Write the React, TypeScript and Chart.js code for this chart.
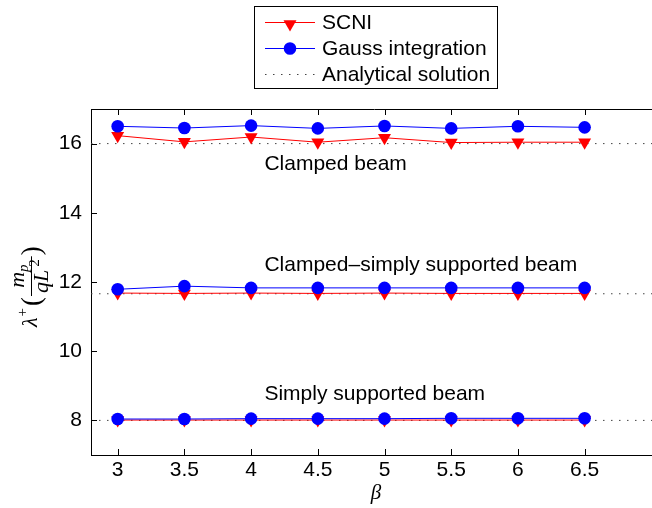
import React, { useEffect, useRef } from 'react';
import { Chart, registerables } from 'chart.js';

Chart.register(...registerables);

// ---- data ----
const betaValues = [3, 3.5, 4, 4.5, 5, 5.5, 6, 6.5];

const scniClamped = [16.23, 16.05, 16.19, 16.04, 16.17, 16.03, 16.04, 16.04];
const gaussClamped = [16.5, 16.45, 16.52, 16.44, 16.51, 16.44, 16.5, 16.47];

const scniClampedSimply = [11.68, 11.67, 11.68, 11.67, 11.68, 11.67, 11.67, 11.67];
const gaussClampedSimply = [11.79, 11.88, 11.83, 11.83, 11.83, 11.83, 11.83, 11.83];

const scniSimply = [8.01, 8.01, 8.01, 8.01, 8.01, 8.01, 8.01, 8.01];
const gaussSimply = [8.04, 8.04, 8.05, 8.05, 8.05, 8.06, 8.06, 8.06];

const analyticalValues = [16, 11.66, 8];
const analyticalSpan = [2.8, 7.05];

const xTickValues = [3, 3.5, 4, 4.5, 5, 5.5, 6, 6.5];
const yTickValues = [8, 10, 12, 14, 16];

const seriesNames = ['SCNI', 'Gauss integration', 'Analytical solution'];

const beamLabels = ['Clamped beam', 'Clamped\u2013simply supported beam', 'Simply supported beam'];
const beamLabelX = [4.1, 4.1, 4.1];
const beamLabelY = [15.4, 12.48, 8.76];

// ---- styles ----
const RED = '#ff0000';
const BLUE = '#0000ff';
const SANS = '"Liberation Sans", Arial, Helvetica, sans-serif';
const SERIF = '"Liberation Serif", "DejaVu Serif", serif';

const toPts = (ys: number[]) => betaValues.map((x, i) => ({ x, y: ys[i] }));

function drawTriangleDown(ctx: CanvasRenderingContext2D, x: number, y: number, r: number) {
  ctx.beginPath();
  for (let k = 0; k < 3; k++) {
    const a = Math.PI + (k * 2 * Math.PI) / 3;
    const px = x + Math.sin(a) * r;
    const py = y - Math.cos(a) * r;
    if (k === 0) ctx.moveTo(px, py);
    else ctx.lineTo(px, py);
  }
  ctx.closePath();
  ctx.fill();
}

const decorPlugin = {
  id: 'decor',
  afterDraw(chart: any) {
    const ctx: CanvasRenderingContext2D = chart.ctx;
    const { left, right, top, bottom } = chart.chartArea;
    const xs = chart.scales.x;
    const ys = chart.scales.y;
    ctx.save();

    // spines (top and right) and inward ticks
    ctx.strokeStyle = '#000';
    ctx.lineWidth = 1;
    ctx.beginPath();
    ctx.moveTo(left, top + 0.5);
    ctx.lineTo(right, top + 0.5);
    ctx.moveTo(right - 0.5, top);
    ctx.lineTo(right - 0.5, bottom);
    const tl = 6;
    xTickValues.forEach((v) => {
      const px = Math.round(xs.getPixelForValue(v)) + 0.5;
      ctx.moveTo(px, bottom);
      ctx.lineTo(px, bottom - tl);
      ctx.moveTo(px, top);
      ctx.lineTo(px, top + tl);
    });
    yTickValues.forEach((v) => {
      const py = Math.round(ys.getPixelForValue(v)) + 0.5;
      ctx.moveTo(left, py);
      ctx.lineTo(left + tl, py);
      ctx.moveTo(right, py);
      ctx.lineTo(right - tl, py);
    });
    ctx.stroke();

    // beam labels
    ctx.fillStyle = '#000';
    ctx.font = `21px ${SANS}`;
    ctx.textAlign = 'left';
    ctx.textBaseline = 'middle';
    beamLabels.forEach((t, i) => {
      ctx.fillText(t, xs.getPixelForValue(beamLabelX[i]), ys.getPixelForValue(beamLabelY[i]));
    });

    // x axis title (beta)
    ctx.font = `italic 21px ${SERIF}`;
    ctx.textAlign = 'center';
    ctx.textBaseline = 'middle';
    ctx.fillText('\u03B2', 376, 493);

    // y axis title: lambda^+ ( m_p / qL^2 )
    ctx.save();
    ctx.translate(32, 327);
    ctx.rotate(-Math.PI / 2);
    ctx.textAlign = 'left';
    ctx.textBaseline = 'alphabetic';
    const big = `italic 22px ${SERIF}`;
    const small = `italic 15px ${SERIF}`;
    const uprSmall = `15px ${SERIF}`;
    const paren = `27px ${SERIF}`;
    let cx = 0;
    const base = 5;
    ctx.font = big;
    ctx.fillText('\u03BB', cx, base);
    cx += ctx.measureText('\u03BB').width + 1;
    ctx.font = uprSmall;
    ctx.fillText('+', cx, base - 10);
    cx += ctx.measureText('+').width + 2;
    ctx.font = paren;
    ctx.fillText('(', cx, base + 3);
    cx += ctx.measureText('(').width + 1;
    // fraction
    ctx.font = big;
    const mW = ctx.measureText('m').width;
    ctx.font = small;
    const pW = ctx.measureText('p').width;
    const numW = mW + pW;
    ctx.font = big;
    const qLW = ctx.measureText('qL').width;
    ctx.font = uprSmall;
    const twoW = ctx.measureText('2').width;
    const denW = qLW + twoW + 3;
    const fracW = Math.max(numW, denW) + 6;
    // bar
    ctx.strokeStyle = '#000';
    ctx.lineWidth = 1;
    ctx.beginPath();
    ctx.moveTo(cx, -0.5);
    ctx.lineTo(cx + fracW, -0.5);
    ctx.stroke();
    // numerator
    let nx = cx + (fracW - numW) / 2;
    ctx.font = big;
    ctx.fillText('m', nx, -8);
    nx += mW;
    ctx.font = small;
    ctx.fillText('p', nx, -4);
    // denominator
    let dx = cx + (fracW - denW) / 2;
    ctx.font = big;
    ctx.fillText('qL', dx, 16);
    dx += qLW + 3;
    ctx.font = uprSmall;
    ctx.fillText('2', dx, 7);
    cx += fracW + 1;
    ctx.font = paren;
    ctx.fillText(')', cx, base + 3);
    ctx.restore();

    // legend box
    const lx0 = 254.5, ly0 = 6.5, lx1 = 497.5, ly1 = 88.5;
    ctx.fillStyle = '#fff';
    ctx.fillRect(lx0, ly0, lx1 - lx0, ly1 - ly0);
    ctx.strokeStyle = '#000';
    ctx.lineWidth = 1;
    ctx.strokeRect(lx0, ly0, lx1 - lx0, ly1 - ly0);
    const rowsY = [22, 48, 74];
    const sx0 = 265, sx1 = 315, mx = 290;
    // SCNI
    ctx.strokeStyle = RED;
    ctx.beginPath();
    ctx.moveTo(sx0, rowsY[0] + 0.5);
    ctx.lineTo(sx1, rowsY[0] + 0.5);
    ctx.stroke();
    ctx.fillStyle = RED;
    drawTriangleDown(ctx, mx, rowsY[0] + 2, 7.5);
    // Gauss
    ctx.strokeStyle = BLUE;
    ctx.beginPath();
    ctx.moveTo(sx0, rowsY[1] + 0.5);
    ctx.lineTo(sx1, rowsY[1] + 0.5);
    ctx.stroke();
    ctx.fillStyle = BLUE;
    ctx.beginPath();
    ctx.arc(mx, rowsY[1] + 0.5, 6.3, 0, Math.PI * 2);
    ctx.fill();
    // Analytical
    ctx.strokeStyle = '#444';
    ctx.setLineDash([1.5, 6.5]);
    ctx.beginPath();
    ctx.moveTo(sx0, rowsY[2] + 0.5);
    ctx.lineTo(sx1, rowsY[2] + 0.5);
    ctx.stroke();
    ctx.setLineDash([]);
    // texts
    ctx.fillStyle = '#000';
    ctx.font = `21px ${SANS}`;
    ctx.textAlign = 'left';
    ctx.textBaseline = 'middle';
    seriesNames.forEach((n, i) => ctx.fillText(n, 322, rowsY[i] + 1));

    ctx.restore();
  },
};

export default function App() {
  const canvasRef = useRef<HTMLCanvasElement | null>(null);

  useEffect(() => {
    const canvas = canvasRef.current;
    if (!canvas) return;

    const scniStyle = {
      borderColor: RED,
      backgroundColor: RED,
      borderWidth: 1,
      pointStyle: 'triangle' as const,
      rotation: 180,
      pointRadius: 7.5,
      pointBorderWidth: 0,
      pointBackgroundColor: RED,
      order: 2,
      tension: 0,
    };
    const gaussStyle = {
      borderColor: BLUE,
      backgroundColor: BLUE,
      borderWidth: 1,
      pointStyle: 'circle' as const,
      pointRadius: 6.3,
      pointBorderWidth: 0,
      pointBackgroundColor: BLUE,
      order: 1,
      tension: 0,
    };
    const analyticalDatasets = analyticalValues.map((v, i) => ({
      label: i === 0 ? seriesNames[2] : '',
      data: analyticalSpan.map((x) => ({ x, y: v })),
      borderColor: '#444',
      borderWidth: 1,
      borderDash: [1.5, 6.5],
      pointRadius: 0,
      order: 3,
    }));

    const chart = new Chart(canvas, {
      type: 'line',
      data: {
        datasets: [
          { label: seriesNames[0], data: toPts(scniClamped), ...scniStyle },
          { label: '', data: toPts(scniClampedSimply), ...scniStyle },
          { label: '', data: toPts(scniSimply), ...scniStyle },
          { label: seriesNames[1], data: toPts(gaussClamped), ...gaussStyle },
          { label: '', data: toPts(gaussClampedSimply), ...gaussStyle },
          { label: '', data: toPts(gaussSimply), ...gaussStyle },
          ...analyticalDatasets,
        ] as any,
      },
      options: {
        animation: false,
        responsive: false,
        devicePixelRatio: 1,
        events: [],
        layout: { padding: { left: 0, top: 109, right: 42, bottom: 0 } },
        plugins: {
          legend: { display: false },
          tooltip: { enabled: false },
        },
        scales: {
          x: {
            type: 'linear',
            min: 2.8,
            max: 7.05,
            afterBuildTicks: (scale: any) => {
              scale.ticks = xTickValues.map((v) => ({ value: v }));
            },
            afterFit: (scale: any) => {
              scale.height = 53;
            },
            grid: { display: false, drawTicks: false },
            border: { display: true, color: '#000', width: 1 },
            ticks: {
              color: '#000',
              font: { family: SANS, size: 21 },
              padding: 3,
              maxRotation: 0,
              autoSkip: false,
              callback: (v: any) => String(v),
            },
          },
          y: {
            type: 'linear',
            min: 7,
            max: 17,
            afterBuildTicks: (scale: any) => {
              scale.ticks = yTickValues.map((v) => ({ value: v }));
            },
            afterFit: (scale: any) => {
              scale.width = 91;
            },
            grid: { display: false, drawTicks: false },
            border: { display: true, color: '#000', width: 1 },
            ticks: {
              color: '#000',
              font: { family: SANS, size: 21 },
              padding: 9,
              autoSkip: false,
              callback: (v: any) => String(v),
            },
          },
        },
      },
      plugins: [decorPlugin],
    });

    return () => chart.destroy();
  }, []);

  return (
    <div
      style={{
        position: 'absolute',
        left: 0,
        top: 0,
        width: 652,
        height: 508,
        overflow: 'hidden',
        background: '#fff',
      }}
    >
      <canvas ref={canvasRef} width={700} height={508} style={{ width: 700, height: 508, display: 'block' }} />
    </div>
  );
}
